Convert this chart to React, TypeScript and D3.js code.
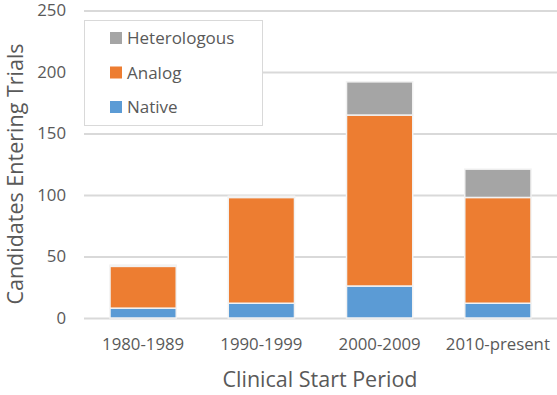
import React, { useEffect, useRef } from "react";
import { axisLeft, scaleBand, scaleLinear, select, stack } from "d3";

const periods = ["1980-1989", "1990-1999", "2000-2009", "2010-present"];
const native = [8, 12, 26, 12];
const analog = [34, 86, 139, 86];
const heterologous = [1, 1, 27, 23];
const seriesNames = ["Native", "Analog", "Heterologous"];
const colors = ["#5B9BD5", "#ED7D31", "#A5A5A5"];
const yTicks = [0, 50, 100, 150, 200, 250];

const App = () => {
  const ref = useRef<SVGSVGElement>(null);

  useEffect(() => {
    const width = 557;
    const height = 395;
    const margin = { top: 10.5, right: 0, bottom: 77, left: 84 };
    const font = "'Open Sans', sans-serif";
    const textColor = "#595959";

    const svg = select(ref.current);
    svg.selectAll("*").remove();

    const rows = periods.map((p, i) => ({
      period: p,
      Native: native[i],
      Analog: analog[i],
      Heterologous: heterologous[i],
    }));

    const x = scaleBand()
      .domain(periods)
      .range([margin.left, width - margin.right])
      .paddingInner(0.44)
      .paddingOuter(0.22);

    const y = scaleLinear()
      .domain([0, 250])
      .range([height - margin.bottom, margin.top]);

    // gridlines + y tick labels
    svg
      .append("g")
      .attr("transform", `translate(${margin.left},0)`)
      .call(
        axisLeft(y)
          .tickValues(yTicks)
          .tickSize(-(width - margin.left - margin.right))
          .tickPadding(18)
      )
      .call((g) => g.select(".domain").remove())
      .call((g) =>
        g.selectAll(".tick line").attr("stroke", "#D9D9D9").attr("stroke-width", 2)
      )
      .call((g) =>
        g
          .selectAll(".tick text")
          .attr("fill", textColor)
          .attr("font-family", font)
          .attr("font-size", 16.8)
      );

    const stacked = stack<any>().keys(seriesNames)(rows);

    svg
      .append("g")
      .selectAll("g")
      .data(stacked)
      .join("g")
      .attr("fill", (_, i) => colors[i])
      .selectAll("rect")
      .data((d) => d)
      .join("rect")
      .attr("x", (d: any) => x(d.data.period)!)
      .attr("width", x.bandwidth())
      .attr("y", (d) => y(d[1]))
      .attr("height", (d) => y(d[0]) - y(d[1]))
      .attr("stroke", "#F2F2F2")
      .attr("stroke-width", 1.5);

    // x labels
    svg
      .append("g")
      .selectAll("text")
      .data(periods)
      .join("text")
      .attr("x", (d) => x(d)! + x.bandwidth() / 2)
      .attr("y", 350)
      .attr("text-anchor", "middle")
      .attr("fill", textColor)
      .attr("font-family", font)
      .attr("font-size", 16.8)
      .text((d) => d);

    svg
      .append("text")
      .attr("x", 320)
      .attr("y", 387)
      .attr("text-anchor", "middle")
      .attr("fill", textColor)
      .attr("font-family", font)
      .attr("font-size", 21.5)
      .text("Clinical Start Period");

    svg
      .append("text")
      .attr("transform", "translate(23,174) rotate(-90)")
      .attr("text-anchor", "middle")
      .attr("fill", textColor)
      .attr("font-family", font)
      .attr("font-size", 21.5)
      .text("Candidates Entering Trials");

    // legend
    const lg = svg.append("g");
    lg.append("rect")
      .attr("x", 84.5)
      .attr("y", 20.5)
      .attr("width", 178)
      .attr("height", 105)
      .attr("fill", "white")
      .attr("stroke", "#D9D9D9");

    const legendOrder = [2, 1, 0];
    legendOrder.forEach((s, i) => {
      const cy = 38 + i * 34.5;
      lg.append("rect")
        .attr("x", 110)
        .attr("y", cy - 6)
        .attr("width", 12)
        .attr("height", 12)
        .attr("fill", colors[s]);
      lg.append("text")
        .attr("x", 127)
        .attr("y", cy)
        .attr("dy", "0.36em")
        .attr("fill", textColor)
        .attr("font-family", font)
        .attr("font-size", 17)
        .text(seriesNames[s]);
    });
  }, []);

  return (
    <svg
      ref={ref}
      width={557}
      height={395}
      style={{ position: "absolute", left: 0, top: 0, background: "white" }}
    />
  );
};

export default App;
